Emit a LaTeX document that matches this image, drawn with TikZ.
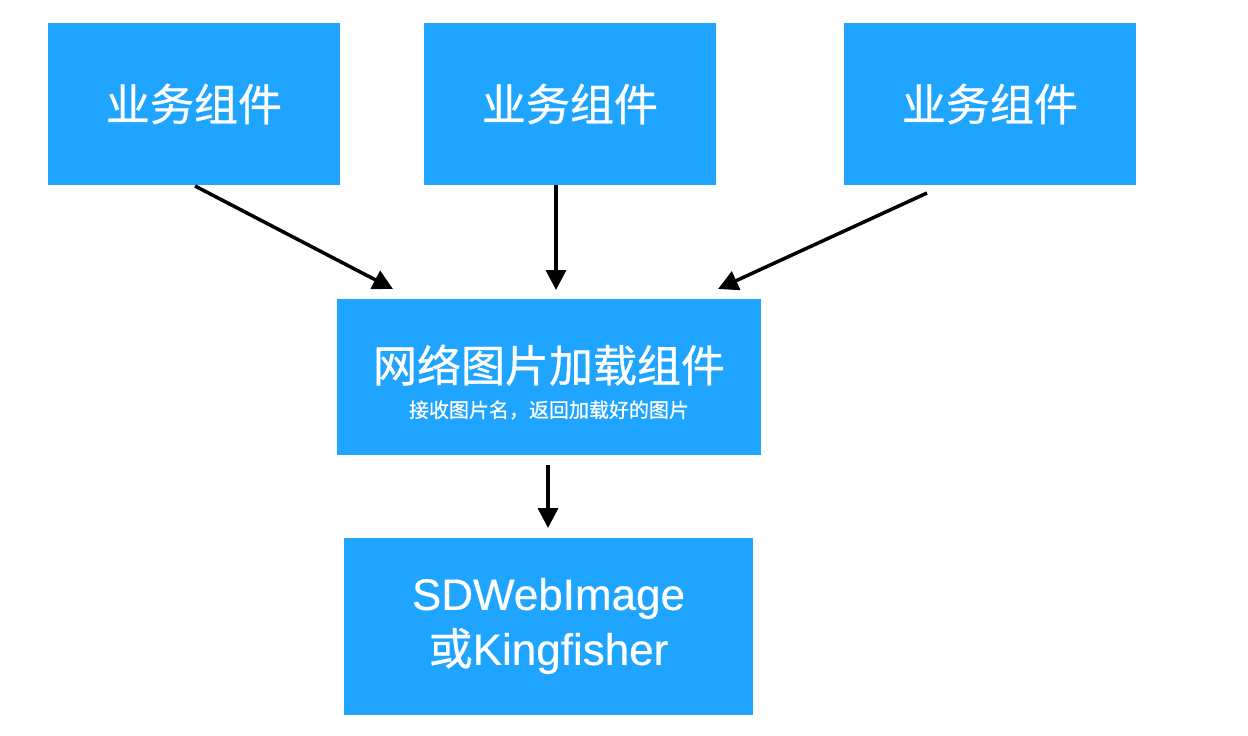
\documentclass[tikz,border=0pt]{standalone}
\usepackage{fontspec}
\newfontfamily\cjk[FakeBold=0.7]{Noto Sans CJK SC}
\newfontfamily\lat[FakeBold=0.5]{Liberation Sans}
\usetikzlibrary{arrows.meta}
\definecolor{boxblue}{HTML}{1FA5FF}
\tikzset{
  box/.style={fill=boxblue, draw=none, inner sep=0pt, rectangle},
  bigtxt/.style={text=white, font=\cjk\fontsize{44}{55}\selectfont, inner sep=0pt, align=center},
  smalltxt/.style={text=white, font=\cjk\fontsize{20}{24}\selectfont, inner sep=0pt},
  conn/.style={line width=3.5pt, -{Triangle[length=20pt,width=20pt]}}
}
\begin{document}
\begin{tikzpicture}[x=1pt,y=-1pt]
\useasboundingbox (0,0) rectangle (1248,736);
\node[box, minimum width=292pt, minimum height=162pt] (b1) at (194,104) {};
\node[box, minimum width=292pt, minimum height=162pt] (b2) at (570,104) {};
\node[box, minimum width=292pt, minimum height=162pt] (b3) at (990,104) {};
\node[box, minimum width=424pt, minimum height=156pt] (mid) at (549,377) {};
\node[box, minimum width=409pt, minimum height=177pt] (bot) at (548.5,626.5) {};
\node[bigtxt] (t1) at (194,104) {业务组件};
\node[bigtxt] (t2) at (570,104) {业务组件};
\node[bigtxt] (t3) at (990,104) {业务组件};
\node[bigtxt] (tm) at (549,365) {网络图片加载组件};
\node[smalltxt] (ts) at (549,410) {接收图片名，返回加载好的图片};
\node[bigtxt] (tb) at (548.5,626) {{\lat SDWebImage}\\或{\lat Kingfisher}};
\coordinate (s1) at (195,186);
\coordinate (e1) at (393,289);
\coordinate (s2) at (556,185);
\coordinate (e2) at (556,290);
\coordinate (s3) at (927,193);
\coordinate (e3) at (718,289);
\coordinate (s4) at (548,465);
\coordinate (e4) at (548,528);
\draw[conn] (s1) -- (e1);
\draw[conn] (s2) -- (e2);
\draw[conn] (s3) -- (e3);
\draw[conn] (s4) -- (e4);
\end{tikzpicture}
\end{document}
